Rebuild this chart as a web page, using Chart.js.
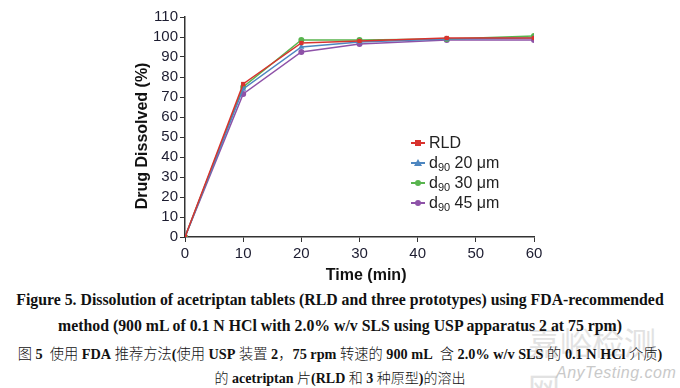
<!DOCTYPE html>
<html>
<head>
<meta charset="utf-8">
<script src="https://cdn.jsdelivr.net/npm/chart.js@4/dist/chart.umd.min.js"></script>
<style>
  html, body { margin: 0; padding: 0; background: #fff; }
  #wrap { position: relative; width: 680px; height: 388px; overflow: hidden; }
  #chart-box { position: absolute; left: 0; top: 0; width: 680px; height: 285px; }
  #legend { position: absolute; left: 410px; top: 133px; font: 16px "Liberation Sans", Arial, sans-serif; color: #222; }
  #legend .row { height: 20px; line-height: 20px; white-space: nowrap; }
  #legend .mk { display: inline-block; position: relative; width: 16px; height: 20px; vertical-align: top; margin-right: 3px; }
  #legend .mk i { position: absolute; left: 1px; right: 1px; top: 9px; height: 1.5px; }
  #legend .mk b { position: absolute; left: 5px; top: 7px; width: 6px; height: 6px; }
  #legend sub { font-size: 11px; vertical-align: -3px; }
  .cap { position: absolute; left: 0; width: 680px; text-align: center; white-space: nowrap;
         font-family: "Liberation Serif", "Times New Roman", serif; color: #111; }
  .en { font-weight: bold; font-size: 15.8px; }
  .zh { font-size: 14px; font-family: "Liberation Serif", "Noto Sans CJK SC", serif; }
  .zh b { font-weight: bold; }
  .zh span { font-family: "Noto Sans CJK SC", sans-serif; font-weight: 300; }
  .wm1 { position: absolute; left: 528px; top: 318px; font: 32px "Noto Sans CJK SC", sans-serif; color: #e2e2e2; }
  .wm2 { position: absolute; left: 556px; top: 364px; font: italic 16px "Liberation Sans", Arial, sans-serif; color: #c9c9c9; letter-spacing: 0.5px; }
</style>
</head>
<body>
<div id="wrap">
  <div id="chart-box"><canvas id="chart"></canvas></div>
  <div id="legend"></div>
  <div class="wm1">嘉峪检测网</div>
  <div class="wm2">AnyTesting.com</div>
  <div class="cap en" style="top:291px">Figure 5. Dissolution of acetriptan tablets (RLD and three prototypes) using FDA-recommended</div>
  <div class="cap en" style="top:317px">method (900 mL of 0.1 N HCl with 2.0% w/v SLS using USP apparatus 2 at 75 rpm)</div>
  <div class="cap zh" style="top:342px;font-size:14.25px"><span>图</span> <b>5</b>&nbsp; <span>使用</span> <b>FDA</b> <span>推荐方法</span><b>(</b><span>使用</span> <b>USP</b> <span>装置</span> <b>2</b><span>，</span><b>75 rpm</b> <span>转速的</span> <b>900 mL</b>&nbsp; <span>含</span> <b>2.0% w/v SLS</b> <span>的</span> <b>0.1 N HCl</b> <span>介质</span><b>)</b></div>
  <div class="cap zh" style="top:367px"><span>的</span> <b>acetriptan</b> <span>片</span><b>(RLD</b> <span>和</span> <b>3</b> <span>种原型</span><b>)</b><span>的溶出</span></div>
</div>
<script>
"use strict";

// Sampling times (min) and % dissolved for each formulation.
const times = [0, 10, 20, 30, 45, 60];
const rld = [0, 76.5, 97, 98, 99.5, 99.5];
const d90_20 = [0, 74, 95, 97.5, 99, 99.5];
const d90_30 = [0, 75, 98.5, 98.5, 99, 100.5];
const d90_45 = [0, 71.5, 92.5, 96.5, 98.5, 98.5];

const yTicks = [0, 10, 20, 30, 40, 50, 60, 70, 80, 90, 100, 110];
const xTicks = [0, 10, 20, 30, 40, 50, 60];

const SERIES = [
  { label: "RLD", sub: "", rest: "", data: rld, color: "#d8332e", style: "rect" },
  { label: "d₉₀ 20 μm", sub: "90", rest: " 20 μm", data: d90_20, color: "#4d86c0", style: "triangle" },
  { label: "d₉₀ 30 μm", sub: "90", rest: " 30 μm", data: d90_30, color: "#58b44e", style: "circle" },
  { label: "d₉₀ 45 μm", sub: "90", rest: " 45 μm", data: d90_45, color: "#8e52a8", style: "circle" },
];

const tickFont = { family: "'Liberation Sans', Arial, sans-serif", size: 15 };
const titleFont = { family: "'Liberation Sans', Arial, sans-serif", size: 16, weight: "bold" };
const ink = "#1c1c30";

function toPoints(ys) {
  return times.map((t, i) => ({ x: t, y: ys[i] }));
}

const cfg = {
  type: "line",
  data: {
    datasets: SERIES.map((s) => ({
      label: s.label,
      data: toPoints(s.data),
      borderColor: s.color,
      backgroundColor: s.color,
      borderWidth: 1.5,
      pointStyle: s.style,
      pointRadius: s.style === "triangle" ? 3.5 : 3,
      pointBorderWidth: 0,
      tension: 0,
    })),
  },
  options: {
    responsive: false,
    animation: false,
    layout: { padding: { left: 128, right: 146, top: 17, bottom: 0 } },
    plugins: { legend: { display: false }, tooltip: { enabled: false } },
    scales: {
      x: {
        type: "linear",
        min: 0,
        max: 60,
        afterBuildTicks: (s) => { s.ticks = xTicks.map((v) => ({ value: v })); },
        afterFit: (s) => { s.height = 48; },
        ticks: { font: tickFont, color: ink, padding: 3, autoSkip: false, maxRotation: 0 },
        grid: { display: true, drawOnChartArea: false, drawTicks: true, tickLength: 5, color: "#333" },
        border: { display: true, color: "#333", width: 1.5 },
        // leading spaces nudge the centred title a little right, as in the figure
        title: { display: true, text: "   Time (min)", font: titleFont, color: "#111", padding: { top: 0, bottom: 0 } },
      },
      y: {
        min: 0,
        max: 110,
        afterBuildTicks: (s) => { s.ticks = yTicks.map((v) => ({ value: v })); },
        afterFit: (s) => { s.width = 57; },
        ticks: { font: tickFont, color: ink, padding: 2, autoSkip: false },
        grid: { display: true, drawOnChartArea: false, drawTicks: true, tickLength: 5, color: "#333" },
        border: { display: true, color: "#333", width: 1.5 },
        title: { display: true, text: "Drug Dissolved (%)    ", font: titleFont, color: "#111", padding: { top: 5, bottom: 0 } },
      },
    },
  },
};

const canvas = document.getElementById("chart");
canvas.width = 680;
canvas.height = 285;
new Chart(canvas, cfg);

// Legend with real subscripts, placed inside the plot like the figure.
const legend = document.getElementById("legend");
legend.innerHTML = SERIES.map((s) => {
  let shape = "";
  if (s.style === "rect") shape = `<b style="background:${s.color}"></b>`;
  else if (s.style === "triangle") shape = `<b style="width:0;height:0;left:4px;top:6px;border-left:4px solid transparent;border-right:4px solid transparent;border-bottom:7px solid ${s.color}"></b>`;
  else shape = `<b style="background:${s.color};border-radius:50%"></b>`;
  const text = s.sub ? `d<sub>${s.sub}</sub>${s.rest}` : s.label;
  return `<div class="row"><span class="mk"><i style="background:${s.color}"></i>${shape}</span>${text}</div>`;
}).join("");
</script>
</body>
</html>
